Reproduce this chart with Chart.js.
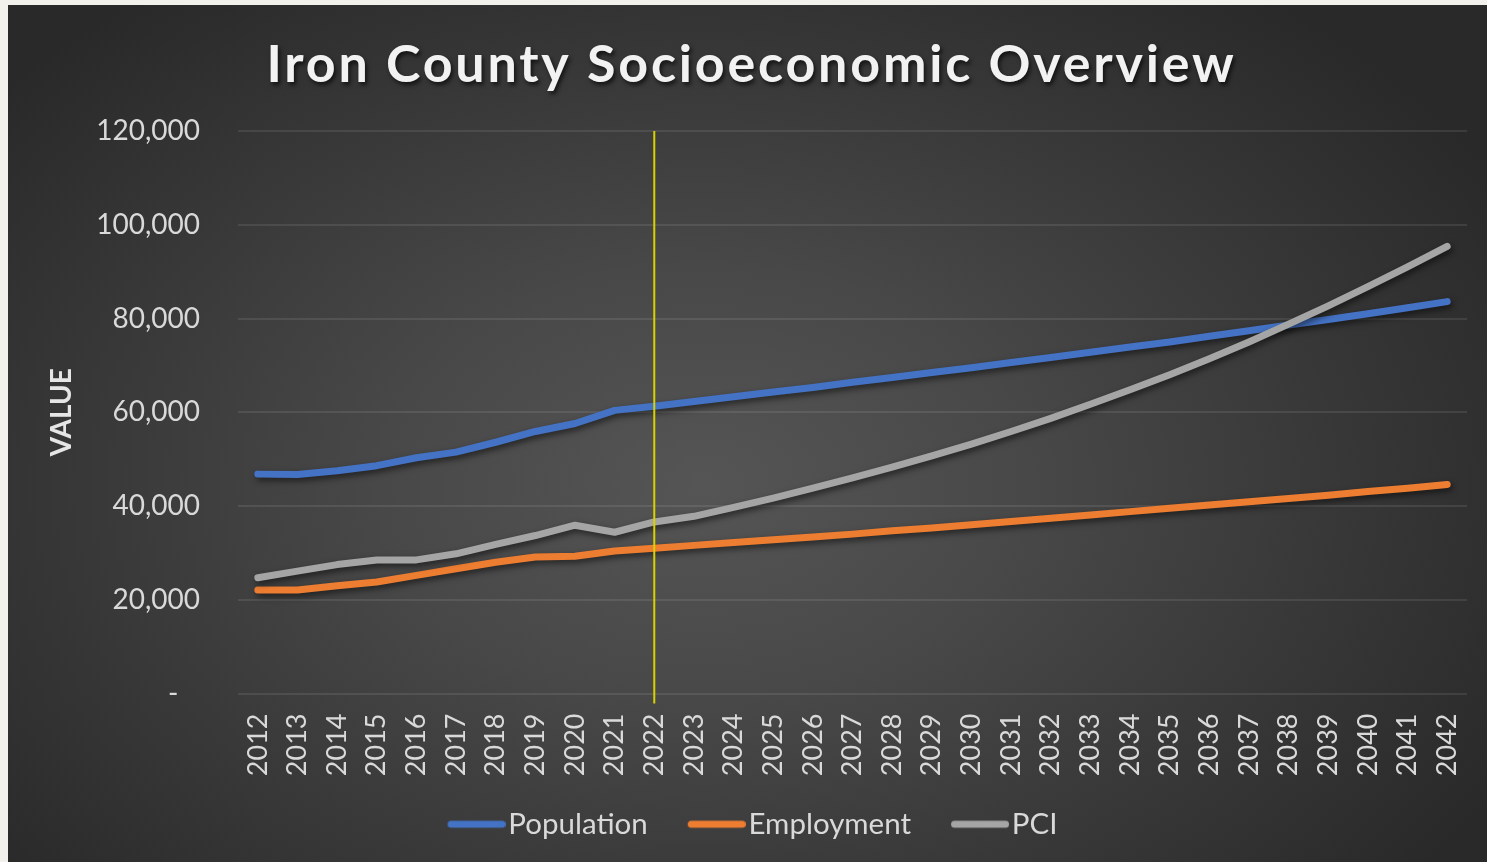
<!DOCTYPE html>
<html>
<head>
<meta charset="utf-8">
<title>Iron County Socioeconomic Overview</title>
<script src="https://cdn.jsdelivr.net/npm/chart.js@4.4.1/dist/chart.umd.min.js"></script>
<style>
  html, body { margin: 0; padding: 0; }
  body { width: 1487px; height: 862px; background: #f3f1ec; position: relative; overflow: hidden; }
  #panel {
    position: absolute; left: 8px; top: 5px; width: 1479px; height: 857px;
    background: radial-gradient(ellipse 62% 72% at 47% 56%, #555555 0%, #484848 35%, #373737 70%, #292929 100%);
  }
  #chart { display: block; }
</style>
</head>
<body>
<div id="panel"><canvas id="chart" width="1479" height="857"></canvas></div>
<script>
const TITLE = 'Iron County Socioeconomic Overview';
const Y_TITLE = 'VALUE';

const years = ['2012','2013','2014','2015','2016','2017','2018','2019','2020','2021','2022',
  '2023','2024','2025','2026','2027','2028','2029','2030','2031','2032',
  '2033','2034','2035','2036','2037','2038','2039','2040','2041','2042'];

const population = [46800, 46700, 47500, 48600, 50300, 51500, 53600, 55900, 57600, 60400, 61300,
  62300, 63300, 64300, 65300, 66400, 67400, 68500, 69500, 70600, 71700,
  72800, 73900, 75000, 76200, 77400, 78600, 79800, 81000, 82300, 83600];

const employment = [22100, 22100, 23000, 23800, 25200, 26600, 28000, 29100, 29300, 30400, 31000,
  31600, 32200, 32800, 33400, 34000, 34700, 35300, 36000, 36700, 37400,
  38100, 38800, 39500, 40200, 40900, 41600, 42300, 43100, 43800, 44600];

const pci = [24700, 26100, 27500, 28500, 28500, 29800, 31800, 33700, 35900, 34400, 36600,
  37800, 39700, 41700, 43800, 46000, 48300, 50700, 53200, 55900, 58700,
  61700, 64800, 68000, 71400, 75000, 78800, 82700, 86800, 91000, 95400];

const seriesNames = ['Population', 'Employment', 'PCI'];
const seriesColors = ['#4472C4', '#ED7D31', '#A5A5A5'];

const yTicks = [0, 20000, 40000, 60000, 80000, 100000, 120000];
const markerYear = '2022';

const TEXT = '#d9d9d9';
const FONT = 'Lato';

// Legend swatch: a short round-capped stroke sitting at the right of a wider transparent image
function legendSwatch(color) {
  const c = document.createElement('canvas');
  c.width = 100; c.height = 10;
  const g = c.getContext('2d');
  g.strokeStyle = color;
  g.lineWidth = 7;
  g.lineCap = 'round';
  g.beginPath();
  g.moveTo(42 + 3.5, 5);
  g.lineTo(100 - 3.5, 5);
  g.stroke();
  return c;
}
const swatches = seriesColors.map(legendSwatch);

// Soft drop shadow under the series lines, plus the vertical marker at the base year
const lineEffects = {
  id: 'lineEffects',
  beforeDatasetsDraw(chart) {
    const ctx = chart.ctx;
    ctx.save();
    ctx.shadowColor = 'rgba(0,0,0,0.55)';
    ctx.shadowBlur = 6;
    ctx.shadowOffsetX = 2;
    ctx.shadowOffsetY = 3;
  },
  afterDatasetsDraw(chart) {
    const ctx = chart.ctx;
    ctx.restore();
    const x = chart.scales.x.getPixelForValue(years.indexOf(markerYear));
    const area = chart.chartArea;
    ctx.save();
    ctx.strokeStyle = '#d8d200';
    ctx.lineWidth = 2;
    ctx.beginPath();
    ctx.moveTo(x, area.top);
    ctx.lineTo(x, area.bottom + 10);
    ctx.stroke();
    ctx.restore();
  }
};

// Chart heading with a raised shadow
const heading = {
  id: 'heading',
  afterDraw(chart) {
    const ctx = chart.ctx;
    ctx.save();
    ctx.font = 'bold 52px ' + FONT;
    ctx.letterSpacing = '2.8px';
    ctx.fillStyle = '#f2f2f2';
    ctx.textAlign = 'center';
    ctx.textBaseline = 'alphabetic';
    ctx.shadowColor = 'rgba(0,0,0,0.65)';
    ctx.shadowBlur = 4;
    ctx.shadowOffsetX = 2;
    ctx.shadowOffsetY = 3;
    ctx.fillText(TITLE, chart.width / 2 + 4, 77);
    ctx.restore();
  }
};

const seriesData = [population, employment, pci];

new Chart(document.getElementById('chart'), {
  type: 'line',
  data: {
    labels: years,
    datasets: seriesNames.map((name, i) => ({
      label: name,
      data: seriesData[i],
      borderColor: seriesColors[i],
      backgroundColor: seriesColors[i],
      borderWidth: 7,
      borderCapStyle: 'round',
      borderJoinStyle: 'round',
      pointRadius: 0,
      pointHoverRadius: 0,
      tension: 0,
      fill: false,
      order: 3 - i
    }))
  },
  options: {
    responsive: false,
    animation: false,
    devicePixelRatio: 1,
    layout: { padding: { top: 126, right: 20, bottom: 13, left: 0 } },
    plugins: {
      title: { display: false },
      tooltip: { enabled: false },
      legend: {
        position: 'bottom',
        labels: {
          color: TEXT,
          font: { family: FONT, size: 29.5 },
          usePointStyle: true,
          pointStyleWidth: 76,
          boxHeight: 10,
          padding: 10,
          generateLabels(chart) {
            return chart.data.datasets.map((ds, i) => ({
              text: ds.label,
              fillStyle: 'transparent',
              strokeStyle: 'transparent',
              lineWidth: 0,
              pointStyle: swatches[i],
              fontColor: TEXT,
              hidden: false,
              datasetIndex: i
            }));
          }
        }
      }
    },
    scales: {
      x: {
        type: 'category',
        offset: true,
        grid: { display: false, drawTicks: false },
        border: { display: false },
        ticks: {
          color: TEXT,
          font: { family: FONT, size: 27 },
          minRotation: 90,
          maxRotation: 90,
          autoSkip: false,
          padding: 20
        },
        afterFit(scale) {
          scale.height = 106;
          scale.paddingLeft = 0;
          scale.paddingRight = 0;
        }
      },
      y: {
        min: 0,
        max: 120000,
        afterBuildTicks(scale) { scale.ticks = yTicks.map(v => ({ value: v })); },
        grid: { color: 'rgba(255,255,255,0.09)', lineWidth: 2, drawTicks: false },
        border: { display: false },
        ticks: {
          color: TEXT,
          font: { family: FONT, size: 28 },
          padding: 38,
          callback: v => v === 0 ? '-   ' : v.toLocaleString('en-US')
        },
        title: {
          display: true,
          text: Y_TITLE,
          color: '#e6e6e6',
          font: { family: FONT, size: 28, weight: 'bold' },
          padding: { top: 37, bottom: 0 }
        },
        afterFit(scale) { scale.width = 230; }
      }
    }
  },
  plugins: [lineEffects, heading]
});
</script>
</body>
</html>
